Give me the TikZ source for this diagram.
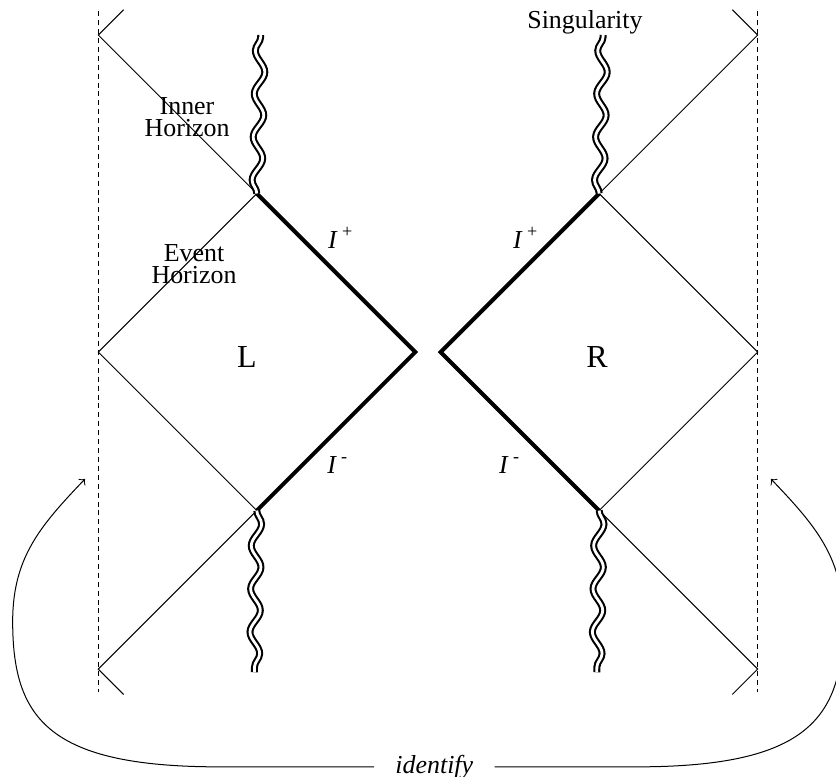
\documentclass[tikz,border=0pt]{standalone}
\usepackage{fontspec}
\setmainfont{Liberation Serif}
\usetikzlibrary{decorations.pathmorphing}

\begin{document}
\begin{tikzpicture}[>=to, scale=2,
    horizon/.style={line width=0.36pt},
    scri/.style={line width=1.45pt, line join=miter},
    sing/.style={double, line width=0.75pt, double distance=1.0pt,
        decorate, decoration={snake, amplitude=1.8pt, segment length=15.5pt}},
    bnd/.style={line width=0.36pt, dash pattern=on 1.8pt off 1.4pt},
    lbl/.style={font=\fontsize{9.3}{7.8}\selectfont, align=center, inner sep=0pt}]

    % 边界
    \useasboundingbox (-2.70,-2.675) rectangle (2.574,2.221);

    % 左右两块
    \foreach \s/\n in {-1/L, 1/R} {
        \coordinate (\n in)  at (0.08*\s, 0);
        \coordinate (\n top) at (1.08*\s, 1);
        \coordinate (\n bot) at (1.08*\s, -1);
        \coordinate (\n out) at (2.08*\s, 0);
        \coordinate (\n ih)  at (2.08*\s, 2);
        \coordinate (\n ihb) at (2.08*\s, -2);
        \coordinate (\n a)   at (1.92*\s, 2.16);
        \coordinate (\n b)   at (1.92*\s, -2.16);
        \coordinate (\n d1)  at (2.08*\s, 2.15);
        \coordinate (\n d2)  at (2.08*\s, -2.145);
        \coordinate (\n s1)  at (1.08*\s+0.025, 2.0);
        \coordinate (\n s2)  at (1.08*\s-0.015, -2.02);
        \draw[bnd] (\n d1) -- (\n d2);
        \draw[horizon] (\n a) -- (\n ih) -- (\n top) -- (\n out) -- (\n bot) -- (\n ihb) -- (\n b);
        \draw[scri] (\n top) -- (\n in) -- (\n bot);
        \draw[sing] (\n top) -- (\n s1);
        \draw[sing] (\n bot) -- (\n s2);
    }

    % 标注
    \node[lbl] (inner) at (-1.52, 1.483) {Inner\\Horizon};
    \node[lbl] (event) at (-1.476, 0.555) {Event\\Horizon};
    \node[lbl] (singlbl) at (0.99, 2.083) {Singularity};
    \node[lbl, font=\fontsize{11.5}{14}\selectfont] (lblL) at (-1.142, -0.03) {L};
    \node[lbl, font=\fontsize{11.5}{14}\selectfont] (lblR) at (1.066, -0.03) {R};
    \node[lbl] (Lplus)  at (-0.549, 0.719) {\textit{I}\,\textsuperscript{+}};
    \node[lbl] (Rplus)  at (0.618, 0.719)  {\textit{I}\,\textsuperscript{+}};
    \node[lbl] (Lminus) at (-0.568, -0.713) {\textit{I}\,\textsuperscript{-}};
    \node[lbl] (Rminus) at (0.517, -0.713)  {\textit{I}\,\textsuperscript{-}};

    % identify
    \node[lbl, font=\fontsize{9.3}{11}\selectfont\itshape, inner xsep=7.5pt, anchor=base] (idf) at (0.04, -2.656) {identify};
    \draw[->, horizon] (idf.west) -- ++(-1.06,0) .. controls (-2.4,-2.6) and (-2.62,-2.3) .. (-2.62,-1.7)
        .. controls (-2.62,-1.3) and (-2.45,-1.1) .. (-2.164,-0.801);
    \draw[->, horizon] (idf.east) -- ++(0.98,0) .. controls (2.4,-2.6) and (2.62,-2.3) .. (2.62,-1.7)
        .. controls (2.62,-1.3) and (2.45,-1.1) .. (2.164,-0.801);

\end{tikzpicture}
\end{document}
